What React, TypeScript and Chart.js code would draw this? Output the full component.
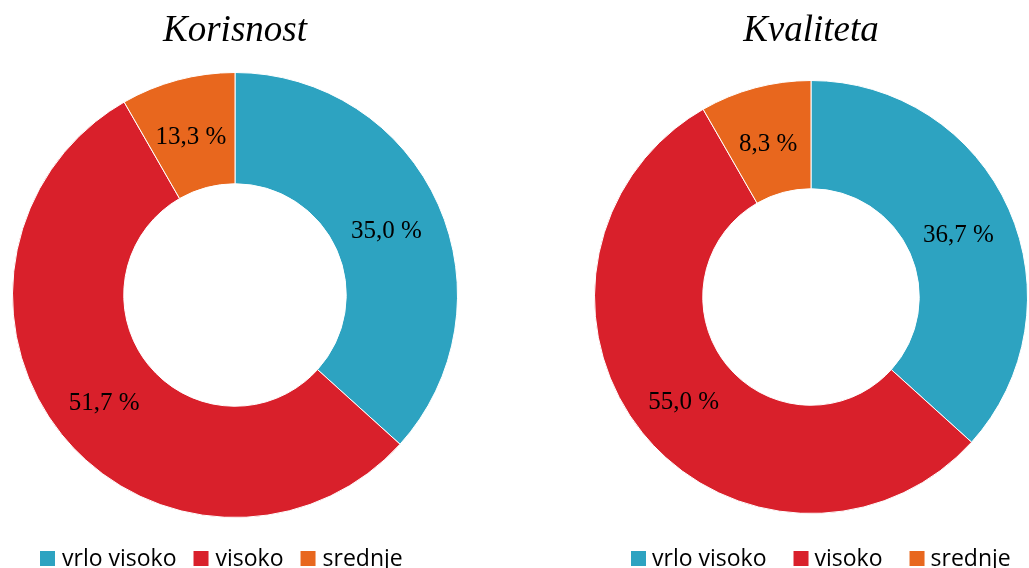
import React, { useEffect, useRef } from 'react';
import { Chart, registerables } from 'chart.js';
Chart.register(...registerables);

const categories = ['vrlo visoko', 'visoko', 'srednje'];
// slice sizes as drawn in the picture
const korisnostSliceValues = [36.7, 55.0, 8.3];
// labels as printed in the picture
const korisnostLabelValues = [35.0, 51.7, 13.3];
const kvalitetaSliceValues = [36.7, 55.0, 8.3];
const kvalitetaLabelValues = [36.7, 55.0, 8.3];
const chartTitles = ['Korisnost', 'Kvaliteta'];
const sliceColors = ['#2DA3C1', '#D9202B', '#E8671E'];

const sliceLabelPlugin = {
  id: 'sliceLabels',
  afterDatasetsDraw(chart: any, _args: any, opts: any) {
    const ctx = chart.ctx;
    const meta = chart.getDatasetMeta(0);
    const labels = (opts && opts.values) as number[];
    ctx.save();
    ctx.font = '25px "Liberation Serif", "Times New Roman", serif';
    ctx.fillStyle = '#000';
    ctx.textAlign = 'center';
    ctx.textBaseline = 'middle';
    meta.data.forEach((arc: any, i: number) => {
      const p = arc.tooltipPosition();
      ctx.fillText(labels[i].toFixed(1).replace('.', ',') + ' %', p.x - 1, p.y + 4);
    });
    ctx.restore();
  },
};

const bottomLegendPlugin = {
  id: 'bottomLegend',
  afterDraw(chart: any, _args: any, opts: any) {
    const ctx = chart.ctx;
    const labels = chart.data.labels as string[];
    const colors = chart.data.datasets[0].backgroundColor as string[];
    const box = 15;
    const baseline = 566;
    let x = opts.x as number;
    ctx.save();
    ctx.font = '23px "Open Sans", sans-serif';
    ctx.textAlign = 'left';
    ctx.textBaseline = 'alphabetic';
    labels.forEach((lab, i) => {
      ctx.fillStyle = colors[i];
      ctx.fillRect(x, baseline - box, box, box);
      x += box + opts.textGap;
      ctx.fillStyle = '#000';
      ctx.fillText(lab, x, baseline);
      x += ctx.measureText(lab).width + opts.itemGap;
    });
    ctx.restore();
  },
};

type DonutProps = {
  title: string;
  values: number[];
  labelValues: number[];
  left: number;
  width: number;
  height: number;
  titleBottom: number;
  legendX: number;
  legendGap: number;
  textGap: number;
};

function Donut({ title, values, labelValues, left, width, height, titleBottom, legendX, legendGap, textGap }: DonutProps) {
  const ref = useRef<HTMLCanvasElement | null>(null);
  useEffect(() => {
    if (!ref.current) return;
    const chart = new Chart(ref.current, {
      type: 'doughnut',
      data: {
        labels: categories,
        datasets: [
          {
            data: values,
            backgroundColor: sliceColors,
            borderColor: '#ffffff',
            borderWidth: 1,
          },
        ],
      },
      options: {
        animation: false,
        responsive: false,
        maintainAspectRatio: false,
        cutout: '50%',
        rotation: 0,
        layout: { padding: { top: 0, left: 0, right: 0, bottom: 50 } },
        plugins: {
          title: {
            display: true,
            text: title,
            color: '#000',
            font: { family: '"Liberation Serif", "Times New Roman", serif', size: 37, style: 'italic', weight: 'normal', lineHeight: 1.2 },
            padding: { top: 9, bottom: titleBottom },
          },
          legend: { display: false },
          tooltip: { enabled: false },
          sliceLabels: { values: labelValues },
          bottomLegend: { x: legendX, itemGap: legendGap, textGap },
        } as any,
      },
      plugins: [sliceLabelPlugin, bottomLegendPlugin],
    });
    return () => chart.destroy();
  }, []);
  return (
    <div style={{ position: 'absolute', left, top: 0, width, height }}>
      <canvas ref={ref} width={width} height={height} style={{ width, height }} />
    </div>
  );
}

export default function App() {
  return (
    <div style={{ position: 'absolute', left: 0, top: 0, width: 1029, height: 568, background: '#fff', overflow: 'hidden' }}>
      <Donut
        title={chartTitles[0]}
        values={korisnostSliceValues}
        labelValues={korisnostLabelValues}
        left={0}
        width={470}
        height={568}
        titleBottom={18.6}
        legendX={40}
        legendGap={17}
        textGap={7}
      />
      <Donut
        title={chartTitles[1]}
        values={kvalitetaSliceValues}
        labelValues={kvalitetaLabelValues}
        left={594}
        width={434}
        height={568}
        titleBottom={22.6}
        legendX={37}
        legendGap={27}
        textGap={6}
      />
    </div>
  );
}
